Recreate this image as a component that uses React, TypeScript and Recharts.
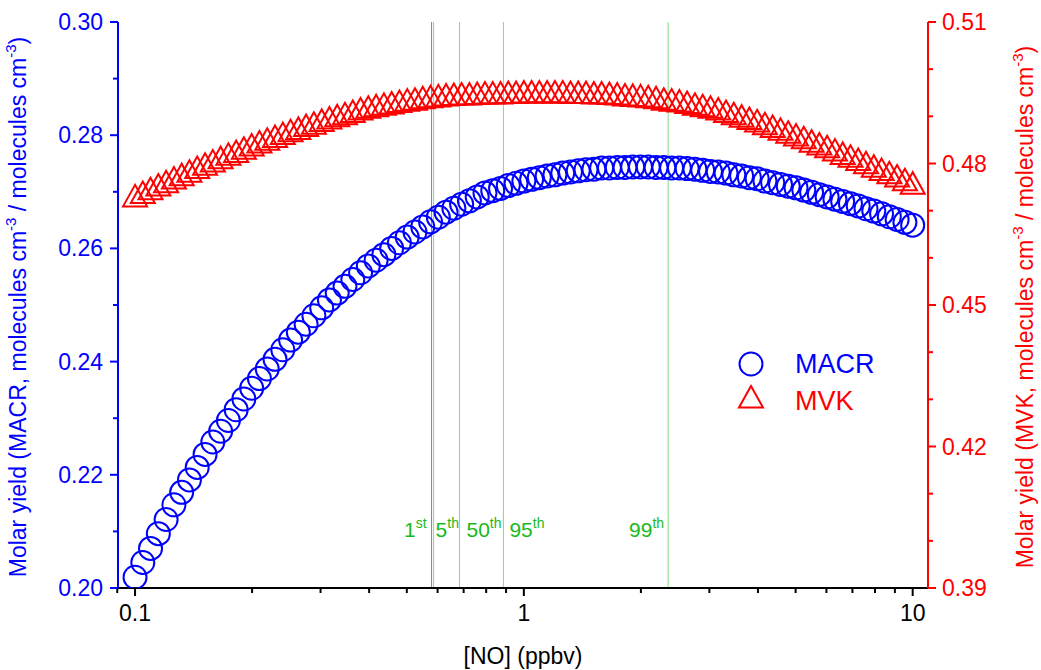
import React from 'react';
import { ScatterChart, Scatter, XAxis, YAxis, ReferenceLine, Customized } from 'recharts';

// [NO] in ppbv
const noPpbv = [
  0.1, 0.1047, 0.1096, 0.1148, 0.1202, 0.1259, 0.1318, 0.138, 0.1445, 0.1514,
  0.1585, 0.166, 0.1738, 0.182, 0.1905, 0.1995, 0.2089, 0.2188, 0.2291, 0.2399,
  0.2512, 0.263, 0.2754, 0.2884, 0.302, 0.3162, 0.3311, 0.3467, 0.3631, 0.3802,
  0.3981, 0.4169, 0.4365, 0.4571, 0.4786, 0.5012, 0.5248, 0.5495, 0.5754, 0.6026,
  0.631, 0.6607, 0.6918, 0.7244, 0.7586, 0.7943, 0.8318, 0.871, 0.912, 0.955,
  1.0, 1.047, 1.096, 1.148, 1.202, 1.259, 1.318, 1.38, 1.445, 1.514,
  1.585, 1.66, 1.738, 1.82, 1.905, 1.995, 2.089, 2.188, 2.291, 2.399,
  2.512, 2.63, 2.754, 2.884, 3.02, 3.162, 3.311, 3.467, 3.631, 3.802,
  3.981, 4.169, 4.365, 4.571, 4.786, 5.012, 5.248, 5.495, 5.754, 6.026,
  6.31, 6.607, 6.918, 7.244, 7.586, 7.943, 8.318, 8.71, 9.12, 9.55,
  10.0,
];

const macrYield = [
  0.2019, 0.2045, 0.207, 0.2096, 0.2121, 0.2147, 0.2169, 0.2191, 0.2213, 0.2236,
  0.2258, 0.2277, 0.2296, 0.2315, 0.2334, 0.2353, 0.237, 0.2387, 0.2404, 0.2421,
  0.2438, 0.2452, 0.2466, 0.2481, 0.2495, 0.2509, 0.2521, 0.2533, 0.2545, 0.2557,
  0.2569, 0.2579, 0.2589, 0.26, 0.261, 0.262, 0.2629, 0.2638, 0.2647, 0.2655,
  0.2664, 0.2671, 0.2678, 0.2684, 0.2691, 0.2698, 0.2702, 0.2706, 0.2711, 0.2715,
  0.2719, 0.2722, 0.2725, 0.2728, 0.273, 0.2733, 0.2735, 0.2737, 0.2739, 0.274,
  0.2742, 0.2742, 0.2743, 0.2743, 0.2744, 0.2744, 0.2744, 0.2743, 0.2743, 0.2742,
  0.2742, 0.2741, 0.274, 0.2738, 0.2736, 0.2735, 0.2733, 0.273, 0.2728, 0.2725,
  0.2723, 0.2719, 0.2716, 0.2713, 0.271, 0.2707, 0.2703, 0.2699, 0.2695, 0.2691,
  0.2687, 0.2683, 0.2679, 0.2675, 0.267, 0.2666, 0.2661, 0.2656, 0.2651, 0.2646,
  0.2641,
];

const mvkYield = [
  0.4725, 0.4732, 0.474, 0.4748, 0.4755, 0.4763, 0.477, 0.4777, 0.4785, 0.4792,
  0.4799, 0.4806, 0.4813, 0.4819, 0.4826, 0.4833, 0.4839, 0.4845, 0.4851, 0.4857,
  0.4863, 0.4868, 0.4874, 0.4879, 0.4885, 0.489, 0.4895, 0.4899, 0.4904, 0.4909,
  0.4913, 0.4916, 0.4919, 0.4922, 0.4925, 0.4928, 0.493, 0.4933, 0.4935, 0.4937,
  0.4939, 0.494, 0.4941, 0.4941, 0.4942, 0.4943, 0.4943, 0.4943, 0.4944, 0.4944,
  0.4945, 0.4945, 0.4945, 0.4945, 0.4945, 0.4945, 0.4944, 0.4944, 0.4944, 0.4943,
  0.4943, 0.4942, 0.4941, 0.4939, 0.4938, 0.4937, 0.4935, 0.4933, 0.493, 0.4928,
  0.4926, 0.4923, 0.4919, 0.4916, 0.4913, 0.4909, 0.4904, 0.4899, 0.4894, 0.4889,
  0.4884, 0.4878, 0.4872, 0.4866, 0.486, 0.4854, 0.4848, 0.4841, 0.4835, 0.4829,
  0.4822, 0.4815, 0.4809, 0.4802, 0.4795, 0.4788, 0.4781, 0.4774, 0.4767, 0.4759,
  0.4752,
];

const xTicks = [0.09, 0.1, 0.2, 0.3, 0.4, 0.5, 0.6, 0.7, 0.8, 0.9, 1, 2, 3, 4, 5, 6, 7, 8, 9, 10];
const xMajor = [0.1, 1, 10];
const leftTicks = [0.2, 0.21, 0.22, 0.23, 0.24, 0.25, 0.26, 0.27, 0.28, 0.29, 0.3];
const leftMajor = [0.2, 0.22, 0.24, 0.26, 0.28, 0.3];
const rightTicks = [0.39, 0.4, 0.41, 0.42, 0.43, 0.44, 0.45, 0.46, 0.47, 0.48, 0.49, 0.5, 0.51];
const rightMajor = [0.39, 0.42, 0.45, 0.48, 0.51];

// NO percentiles
const pctValues = [0.579, 0.586, 0.683, 0.886, 2.35];
const pctLabels = ['1', '5', '50', '95', '99'];
const pctSuffix = ['st', 'th', 'th', 'th', 'th'];

const pctStyle = [
  { color: '#808080', anchor: 'end', dx: -5 },
  { color: '#7fdc7f', anchor: 'start', dx: 2 },
  { color: '#7fdc7f', anchor: 'start', dx: 7 },
  { color: '#7fdc7f', anchor: 'start', dx: 6 },
  { color: '#7fdc7f', anchor: 'end', dx: -4 },
];

const FONT = '"Liberation Sans", Arial, sans-serif';
const BLUE = '#0000ff';
const RED = '#ff0000';
const GREEN = '#19b919';

const macrData = noPpbv.map((x, i) => ({ x, y: macrYield[i] }));
const mvkData = noPpbv.map((x, i) => ({ x, y: mvkYield[i] }));

const isIn = (v: number, list: number[]) => list.some((m) => Math.abs(m - v) < 1e-6);

const Ring = (props: any) => (
  <circle cx={props.cx} cy={props.cy} r={11.5} fill="none" stroke={BLUE} strokeWidth={2} />
);

const Tri = (props: any) => {
  const { cx, cy } = props;
  return (
    <polygon
      points={`${cx},${cy - 14} ${cx - 12},${cy + 7.5} ${cx + 12},${cy + 7.5}`}
      fill="none"
      stroke={RED}
      strokeWidth={2}
    />
  );
};

const BottomTick = ({ x, y, payload }: any) => {
  const major = isIn(payload.value, xMajor);
  return (
    <g>
      <line x1={x} x2={x} y1={y} y2={y + (major ? 8 : 5)} stroke="#000" strokeWidth={2} />
      {major && (
        <text x={x} y={y + 33} textAnchor="middle" fill="#000" fontSize={23} fontFamily={FONT}>
          {payload.value}
        </text>
      )}
    </g>
  );
};

const TopTick = ({ x, y, payload }: any) =>
  isIn(payload.value, xMajor) ? <line x1={x} x2={x} y1={y} y2={y + 8} stroke="#000" strokeWidth={2} /> : <g />;

const LeftTick = ({ x, y, payload }: any) => {
  const major = isIn(payload.value, leftMajor);
  return (
    <g>
      <line x1={x} x2={x - (major ? 8 : 5)} y1={y} y2={y} stroke={BLUE} strokeWidth={2} />
      {major && (
        <text x={x - 15} y={y + 8} textAnchor="end" fill={BLUE} fontSize={23} fontFamily={FONT}>
          {payload.value.toFixed(2)}
        </text>
      )}
    </g>
  );
};

const RightTick = ({ x, y, payload }: any) => {
  const major = isIn(payload.value, rightMajor);
  return (
    <g>
      <line x1={x} x2={x + (major ? 8 : 5)} y1={y} y2={y} stroke={RED} strokeWidth={2} />
      {major && (
        <text x={x + 14} y={y + 8} textAnchor="start" fill={RED} fontSize={23} fontFamily={FONT}>
          {payload.value.toFixed(2)}
        </text>
      )}
    </g>
  );
};

const pctLabel = (i: number) => (props: any) => {
  const vb = props.viewBox || {};
  const st = pctStyle[i];
  return (
    <text
      x={vb.x + st.dx}
      y={vb.y + vb.height - 51}
      textAnchor={st.anchor}
      fill={GREEN}
      fontSize={21}
      fontFamily={FONT}
    >
      {pctLabels[i]}
      <tspan dy={-9} fontSize={14}>{pctSuffix[i]}</tspan>
    </text>
  );
};

const Decorations = () => (
  <g fontFamily={FONT}>
    <text
      x={18}
      y={307}
      transform="rotate(-90 18 307)"
      textAnchor="middle"
      dominantBaseline="central"
      fill={BLUE}
      fontSize={23}
    >
      Molar yield (MACR, molecules cm<tspan dy={-8} fontSize={15}>-3</tspan>
      <tspan dy={8}> / molecules cm</tspan>
      <tspan dy={-8} fontSize={15}>-3</tspan>
      <tspan dy={8}>)</tspan>
    </text>
    <text
      x={1025}
      y={307}
      transform="rotate(-90 1025 307)"
      textAnchor="middle"
      dominantBaseline="central"
      fill={RED}
      fontSize={23}
    >
      Molar yield (MVK, molecules cm<tspan dy={-8} fontSize={15}>-3</tspan>
      <tspan dy={8}> / molecules cm</tspan>
      <tspan dy={-8} fontSize={15}>-3</tspan>
      <tspan dy={8}>)</tspan>
    </text>
    <text x={523} y={664} textAnchor="middle" fill="#000" fontSize={23}>
      [NO] (ppbv)
    </text>
    {/* legend */}
    <circle cx={751} cy={364} r={11.5} fill="none" stroke={BLUE} strokeWidth={2} />
    <text x={795} y={373} fill={BLUE} fontSize={27}>MACR</text>
    <polygon points="751,386 739,407.5 763,407.5" fill="none" stroke={RED} strokeWidth={2} />
    <text x={795} y={410} fill={RED} fontSize={27}>MVK</text>
  </g>
);

export default function App() {
  return (
    <div style={{ position: 'absolute', left: 0, top: 0, background: '#fff', fontFamily: FONT }}>
      <ScatterChart width={1041} height={670} margin={{ top: 22, right: 0, bottom: 0, left: 0 }}>
        <XAxis
          dataKey="x"
          type="number"
          scale="log"
          domain={[0.0904, 10.95]}
          allowDataOverflow
          ticks={xTicks}
          interval={0}
          height={82}
          tickSize={0}
          tickMargin={0}
          tickLine={false}
          axisLine={{ stroke: '#000', strokeWidth: 2 }}
          tick={<BottomTick />}
        />
        <XAxis
          xAxisId="top"
          dataKey="x"
          type="number"
          scale="log"
          orientation="top"
          domain={[0.0904, 10.95]}
          allowDataOverflow
          ticks={xMajor}
          interval={0}
          height={0}
          tickSize={0}
          tickMargin={0}
          tickLine={false}
          axisLine={{ stroke: '#000', strokeWidth: 2 }}
          tick={<TopTick />}
        />
        <YAxis
          yAxisId="left"
          dataKey="y"
          type="number"
          domain={[0.2, 0.3]}
          allowDataOverflow
          ticks={leftTicks}
          interval={0}
          width={118}
          tickSize={0}
          tickMargin={0}
          tickLine={false}
          axisLine={{ stroke: BLUE, strokeWidth: 2 }}
          tick={<LeftTick />}
        />
        <YAxis
          yAxisId="right"
          orientation="right"
          dataKey="y"
          type="number"
          domain={[0.39, 0.51]}
          allowDataOverflow
          ticks={rightTicks}
          interval={0}
          width={113}
          tickSize={0}
          tickMargin={0}
          tickLine={false}
          axisLine={{ stroke: RED, strokeWidth: 2 }}
          tick={<RightTick />}
        />
        {pctValues.map((v, i) => (
          <ReferenceLine
            key={`pct-${i}`}
            x={v}
            yAxisId="left"
            stroke={pctStyle[i].color}
            strokeWidth={1}
            label={pctLabel(i)}
          />
        ))}
        <Scatter
          name="MVK"
          data={mvkData}
          yAxisId="right"
          shape={<Tri />}
          isAnimationActive={false}
        />
        <Scatter
          name="MACR"
          data={macrData}
          yAxisId="left"
          shape={<Ring />}
          isAnimationActive={false}
        />
        <Customized component={<Decorations />} />
      </ScatterChart>
    </div>
  );
}
